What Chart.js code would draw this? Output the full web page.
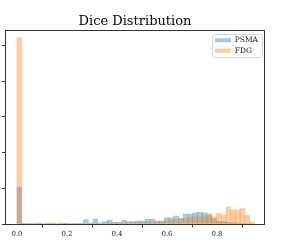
<!DOCTYPE html>
<html>
<head>
<meta charset="utf-8">
<script src="https://cdn.jsdelivr.net/npm/chart.js@4.4.1/dist/chart.umd.min.js"></script>
<style>
  html, body { margin: 0; padding: 0; background: #fff; }
  #wrap { width: 299px; height: 252px; }
</style>
</head>
<body>
<div id="wrap"><canvas id="chartDice"></canvas></div>
<script>
// bin centres (50 bins of width 0.019 starting at 0)
const binCenters = [
  0.0095, 0.0285, 0.0475, 0.0665, 0.0855, 0.1045, 0.1235, 0.1425, 0.1615, 0.1805,
  0.1995, 0.2185, 0.2375, 0.2565, 0.2755, 0.2945, 0.3135, 0.3325, 0.3515, 0.3705,
  0.3895, 0.4085, 0.4275, 0.4465, 0.4655, 0.4845, 0.5035, 0.5225, 0.5415, 0.5605,
  0.5795, 0.5985, 0.6175, 0.6365, 0.6555, 0.6745, 0.6935, 0.7125, 0.7315, 0.7505,
  0.7695, 0.7885, 0.8075, 0.8265, 0.8455, 0.8645, 0.8835, 0.9025, 0.9215, 0.9405
];
const psmaCounts = [
  20.5, 0.4, 0.3, 0.3, 0.5, 0.3, 0.3, 0.4, 0.3, 0.5,
  0.4, 0.3, 0.3, 0.4, 2.5, 0.5, 2.8, 0.6, 1.3, 2.2,
  1.0, 1.0, 2.0, 1.3, 1.3, 1.7, 1.7, 2.6, 2.6, 1.7,
  1.7, 3.4, 3.4, 4.5, 3.2, 5.6, 5.6, 6.2, 6.5, 6.2,
  5.0, 3.0, 1.5, 1.3, 1.0, 0.8, 0.5, 0.3, 0.2, 0
];
const fdgCounts = [
  104.5, 0.3, 0.2, 0.3, 0.2, 0.3, 0.6, 0.5, 0.3, 0.3,
  0.2, 0.3, 0.2, 0.3, 0.3, 0.4, 0.4, 0.4, 0.5, 0.5,
  0.5, 0.6, 0.6, 0.8, 0.8, 1.0, 1.0, 1.1, 1.2, 1.4,
  1.5, 1.6, 2.0, 2.2, 2.8, 3.2, 3.8, 4.0, 4.0, 4.0,
  6.0, 4.0, 6.0, 5.0, 9.6, 8.0, 8.0, 8.6, 4.9, 1.1
];
const xTicks = [0.0, 0.2, 0.4, 0.6, 0.8];
const yTicks = [0, 20, 40, 60, 80, 100];

const serif = "'DejaVu Serif', 'Liberation Serif', serif";

// cadre des axes + cadre de la légende
const framePlugin = {
    id: 'frame',
    afterLayout(chart) {
        const a = chart.chartArea;
        const lg = chart.legend;
        lg.left = a.right - 53;
        lg.top = a.top + 4;
    },
    afterDraw(chart) {
        const ctx = chart.ctx;
        const a = chart.chartArea;
        ctx.save();
        ctx.strokeStyle = '#333';
        ctx.lineWidth = 1;
        ctx.strokeRect(Math.round(a.left) + 0.5, Math.round(a.top) + 0.5,
            Math.round(a.right - a.left) - 1, Math.round(a.bottom - a.top));
        // legend box
        const lx = Math.round(a.right - 53) + 0.5, ly = Math.round(a.top + 4) + 0.5;
        ctx.strokeStyle = '#d6d6d6';
        ctx.beginPath();
        ctx.roundRect(lx, ly, 50, 23, 2);
        ctx.stroke();
        ctx.restore();
    }
};

new Chart(document.getElementById('chartDice'), {
    type: 'bar',
    data: {
        datasets: [{
            label: 'PSMA',
            data: binCenters.map((x, i) => ({ x: x, y: psmaCounts[i] })),
            backgroundColor: 'rgba(31, 119, 180, 0.4)',
            borderWidth: 0,
            order: 1
        }, {
            label: 'FDG',
            data: binCenters.map((x, i) => ({ x: x, y: fdgCounts[i] })),
            backgroundColor: 'rgba(255, 127, 14, 0.4)',
            borderWidth: 0,
            order: 0
        }]
    },
    options: {
        responsive: true,
        maintainAspectRatio: false,
        animation: false,
        grouped: false,
        barPercentage: 1,
        categoryPercentage: 1,
        layout: { padding: { left: 0, right: 34, top: 0, bottom: 0 } },
        plugins: {
            title: {
                display: true,
                text: 'Dice Distribution',
                fullSize: false,
                color: '#000',
                font: { family: serif, size: 13, weight: 'normal' },
                padding: { top: 14, bottom: 0 }
            },
            legend: {
                position: 'chartArea',
                align: 'start',
                labels: {
                    boxWidth: 16,
                    boxHeight: 4,
                    padding: 3,
                    color: '#222',
                    font: { family: serif, size: 7.5 },
                    sort: (a, b) => a.datasetIndex - b.datasetIndex
                }
            },
            tooltip: { enabled: false }
        },
        scales: {
            x: {
                type: 'linear',
                min: -0.048,
                max: 0.992,
                offset: false,
                afterBuildTicks: (s) => { s.ticks = xTicks.map(v => ({ value: v })); },
                afterFit: (s) => { s.height = 28; },
                ticks: {
                    color: '#222',
                    padding: 2,
                    maxRotation: 0,
                    font: { family: serif, size: 7 },
                    callback: (v) => v.toFixed(1)
                },
                grid: { display: true, drawOnChartArea: false, drawTicks: true, tickLength: 3.5, color: '#333' },
                border: { display: false }
            },
            y: {
                min: 0,
                max: 109,
                afterBuildTicks: (s) => { s.ticks = yTicks.map(v => ({ value: v })); },
                afterFit: (s) => { s.width = 5; },
                ticks: { display: false },
                grid: { display: true, drawOnChartArea: false, drawTicks: true, tickLength: 3, color: '#333' },
                border: { display: false }
            }
        }
    },
    plugins: [framePlugin]
});
</script>
</body>
</html>
